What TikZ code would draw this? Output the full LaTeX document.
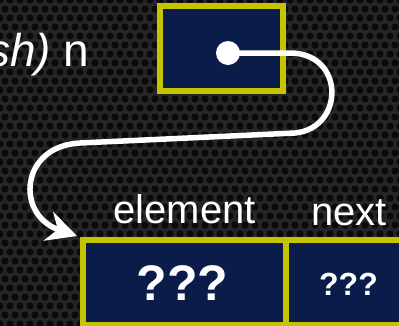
\documentclass[tikz,border=0pt]{standalone}
\usepackage{fontspec}
\setmainfont{Liberation Sans}
\usetikzlibrary{arrows.meta, calc, positioning}
\definecolor{mesh}{HTML}{262626}
\definecolor{hole}{HTML}{0A0A0A}
\definecolor{cellblue}{HTML}{0B1C4A}
\definecolor{cellrim}{HTML}{C4C400}

\tikzset{
  cell/.style={draw=cellrim, line width=6pt, fill=cellblue, inner sep=0pt, outer sep=0pt},
  fieldname/.style={text=white, font=\fontsize{40}{40}\selectfont, anchor=base},
  cellvalue/.style={text=white, font=\bfseries\fontsize{#1}{#1}\selectfont},
  pointer/.style={draw=white, line width=5.5pt, -{Stealth[length=30pt, width=30pt]}}
}

\begin{document}
\begin{tikzpicture}[x=1pt, y=-1pt]
                  \useasboundingbox (0,0) rectangle (399,325);

                  \fill[mesh] (-6,-6) rectangle (405,331);
                  \foreach \i in {0,...,40}
                      \foreach \j in {0,...,37}
                          \fill[hole] ({10*\i + 5*mod(\j,2)}, {9*\j}) circle (3.6pt);

                  \node[cell, minimum width=123pt, minimum height=85pt] (nbox) at (221.5,48.5) {};
                  \node[cell, minimum width=203pt, minimum height=85pt] (elembox) at (184.5,282.5) {};
                  \node[cell, minimum width=119pt, minimum height=85pt, anchor=west] (nextbox) at (elembox.east) {};

                  \node[text=white, font=\fontsize{46}{46}\selectfont, anchor=base east] (nlbl) at ([xshift=-67pt, yshift=-17.5pt]nbox.west) {\textit{sh)} n};
                  \node[fieldname] (elemlbl) at ([yshift=17pt]elembox.north) {element};
                  \node[fieldname] (nextlbl) at ([xshift=3.5pt, yshift=15pt]nextbox.north) {next};

                  \node[cellvalue=50] (elemval) at ([xshift=-2pt, yshift=-1pt]elembox.center) {???};
                  \node[cellvalue=32] (nextval) at ([xshift=3pt, yshift=-2pt]nextbox.center) {???};

                  \coordinate (nptr) at ([xshift=6.5pt, yshift=-4.5pt]nbox.center);
                  \coordinate (ntip) at ([shift={(-6pt,4pt)}]elembox.north west);
                  \fill[white] (nptr) circle (12pt);
                  \draw[pointer] (nptr) -- (290,53) .. controls (345,53) and (345,128) .. (295,133)
                      -- (80,143) .. controls (20,146) and (15,215) .. (ntip);
              \end{tikzpicture}
\end{document}
